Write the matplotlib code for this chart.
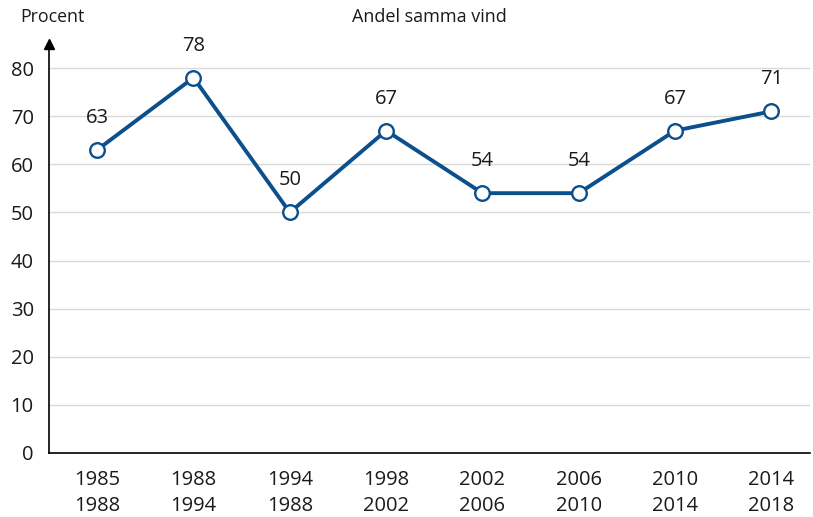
import matplotlib
matplotlib.use("Agg")
import matplotlib.pyplot as plt

periods = ["1985\n1988", "1988\n1994", "1994\n1988", "1998\n2002", "2002\n2006",
           "2006\n2010", "2010\n2014", "2014\n2018"]
values = [63, 78, 50, 67, 54, 54, 67, 71]
yticks = [0, 10, 20, 30, 40, 50, 60, 70, 80]

plt.rcParams['font.family'] = ['Open Sans', 'DejaVu Sans']

W, H = 813, 517
fig = plt.figure(figsize=(W/100, H/100), dpi=100)
left, right, bottom_px, top_px = 49, 810, 453, 44
ax = fig.add_axes([left/W, 1-bottom_px/H, (right-left)/W, (bottom_px-top_px)/H])

color = '#0b4f8c'
fs = 14.5
x = list(range(len(values)))
ax.plot(x, values, color=color, lw=2.8, marker='o', ms=10.5, mfc='white',
        mec=color, mew=1.7, zorder=3, clip_on=False)
for xi, v in zip(x, values):
    ax.annotate(str(v), (xi, v), xytext=(0, 23), textcoords='offset points',
                ha='center', va='center', fontsize=fs, color='#1a1a1a')

ax.set_xlim(-0.5, 7.4)
ax.set_ylim(0, 85)
ax.set_yticks(yticks)
ax.set_xticks(x)
ax.set_xticklabels(periods, fontsize=fs, color='#1a1a1a', linespacing=1.45)
ax.tick_params(axis='y', labelsize=fs, length=0, pad=11, labelcolor='#1a1a1a')
ax.tick_params(axis='x', length=0, pad=12)
ax.grid(axis='y', color='#d9d9d9', lw=1)
ax.set_axisbelow(True)
for s in ['top', 'right']:
    ax.spines[s].set_visible(False)
ax.spines['left'].set_color('black')
ax.spines['bottom'].set_color('black')
ax.spines['left'].set_linewidth(1.2)
ax.spines['bottom'].set_linewidth(1.2)
# arrow at top of y axis
ax.plot(0, 1, marker='^', color='black', ms=7, transform=ax.transAxes, clip_on=False)

fig.text(20/W, 1-17/H, 'Procent', fontsize=12.8, va='center', ha='left', color='#1a1a1a')
fig.text(429/W, 1-17/H, 'Andel samma vind', fontsize=13, va='center', ha='center', color='#1a1a1a')

fig.savefig('out.png', dpi=100)
